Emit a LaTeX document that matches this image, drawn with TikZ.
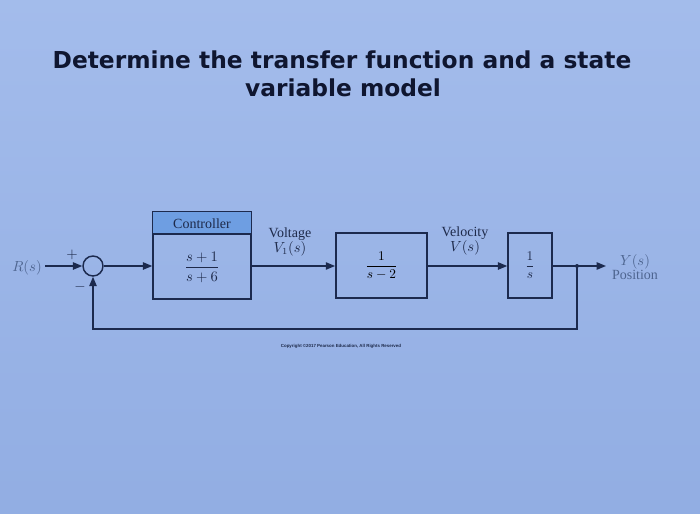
\documentclass[tikz,border=0pt]{standalone}
\usepackage{amsmath}
\usepackage{fontspec}
\setmainfont{Liberation Serif}
\newfontfamily\titlefont{DejaVu Sans}
\newfontfamily\tinyfont{Liberation Sans}
\usetikzlibrary{arrows.meta}
\definecolor{bgblue}{HTML}{93B0E8}
\definecolor{hdrblue}{HTML}{6E9EE2}
\definecolor{linecol}{HTML}{1C2A4E}
\definecolor{textcol}{HTML}{1E2A4A}
\definecolor{greytext}{HTML}{4E6590}
\definecolor{titlecol}{HTML}{0F1630}
\tikzset{
  blk/.style={draw=linecol, line width=1.1pt, minimum height=49pt, inner sep=0pt},
  sig/.style={draw=linecol, line width=1.1pt, -{Triangle[length=7pt,width=5.5pt]}},
  wire/.style={draw=linecol, line width=1.1pt},
  lbl/.style={text=textcol, font=\fontsize{10.5}{12}\selectfont, inner sep=0pt},
  ttl/.style={text=titlecol, font=\titlefont\bfseries\fontsize{17.5}{21}\selectfont, inner sep=0pt}
}
\begin{document}
\begin{tikzpicture}[x=0.75pt,y=-0.75pt]
\useasboundingbox (0,0) rectangle (700,514);
\shade[top color=bgblue!85!white, bottom color=bgblue!95!gray] (0,0) rectangle (700,514);
% title
\node[ttl] (t1) at (342,60) {Determine the transfer function and a state};
\node[ttl] (t2) at (343,88) {variable model};
% summing junction
\node[draw=linecol, line width=1.1pt, circle, minimum size=15pt, inner sep=0pt] (sum) at (93,266) {};
\node[lbl, text=greytext] (R) at (27,268) {$R(s)$};
\node[lbl] (plus) at (72,255) {$+$};
\node[lbl] (minus) at (80,287) {$-$};
% controller
\node[blk, minimum width=73.5pt, minimum height=65pt] (ctrl) at (202,255.5) {};
\fill[hdrblue] (ctrl.north west) rectangle (251,234);
\draw[wire] (ctrl.north west) rectangle (ctrl.south east);
\draw[wire] (153,234) -- (251,234);
\node[lbl, font=\fontsize{10.5}{12}\selectfont] (ctrltxt) at (202,224) {Controller};
\node[lbl] (ctrlfrac) at (202,267) {$\dfrac{s+1}{s+6}$};
% plant blocks
\node[blk, minimum width=68.5pt] (g1) at (381.5,265.5) {$\dfrac{1}{s-2}$};
\node[blk, minimum width=33pt, text=textcol] (g2) at (530,265.5) {$\dfrac{1}{s}$};
% labels
\node[lbl, align=center] (vlt) at (290,242) {Voltage\\[-1pt]$V_1(s)$};
\node[lbl, align=center] (vel) at (465,241) {Velocity\\[-1pt]$V(s)$};
\node[lbl, text=greytext, align=center] (out) at (635,267) {$Y(s)$\\[-1pt]Position};
% connectors
\coordinate (rin) at (45,266);
\coordinate (dot) at (577,266);
\coordinate (yend) at (606,266);
\draw[sig] (rin) -- (sum.west);
\draw[sig] (sum.east) -- (ctrl.west |- sum.east);
\draw[sig] (ctrl.east |- sum.east) -- (g1.west |- sum.east);
\draw[sig] (g1.east |- sum.east) -- (g2.west |- sum.east);
\draw[sig] (g2.east |- sum.east) -- (yend);
\fill[linecol] (dot) circle (1.5pt);
\draw[sig] (dot) -- (577,329) -- (93,329) -- (sum.south);
% copyright
\node[text=textcol, font=\tinyfont\bfseries\fontsize{3.3}{4}\selectfont, inner sep=0pt] (copy) at (341,346) {Copyright \textcopyright 2017 Pearson Education, All Rights Reserved};
\end{tikzpicture}
\end{document}
